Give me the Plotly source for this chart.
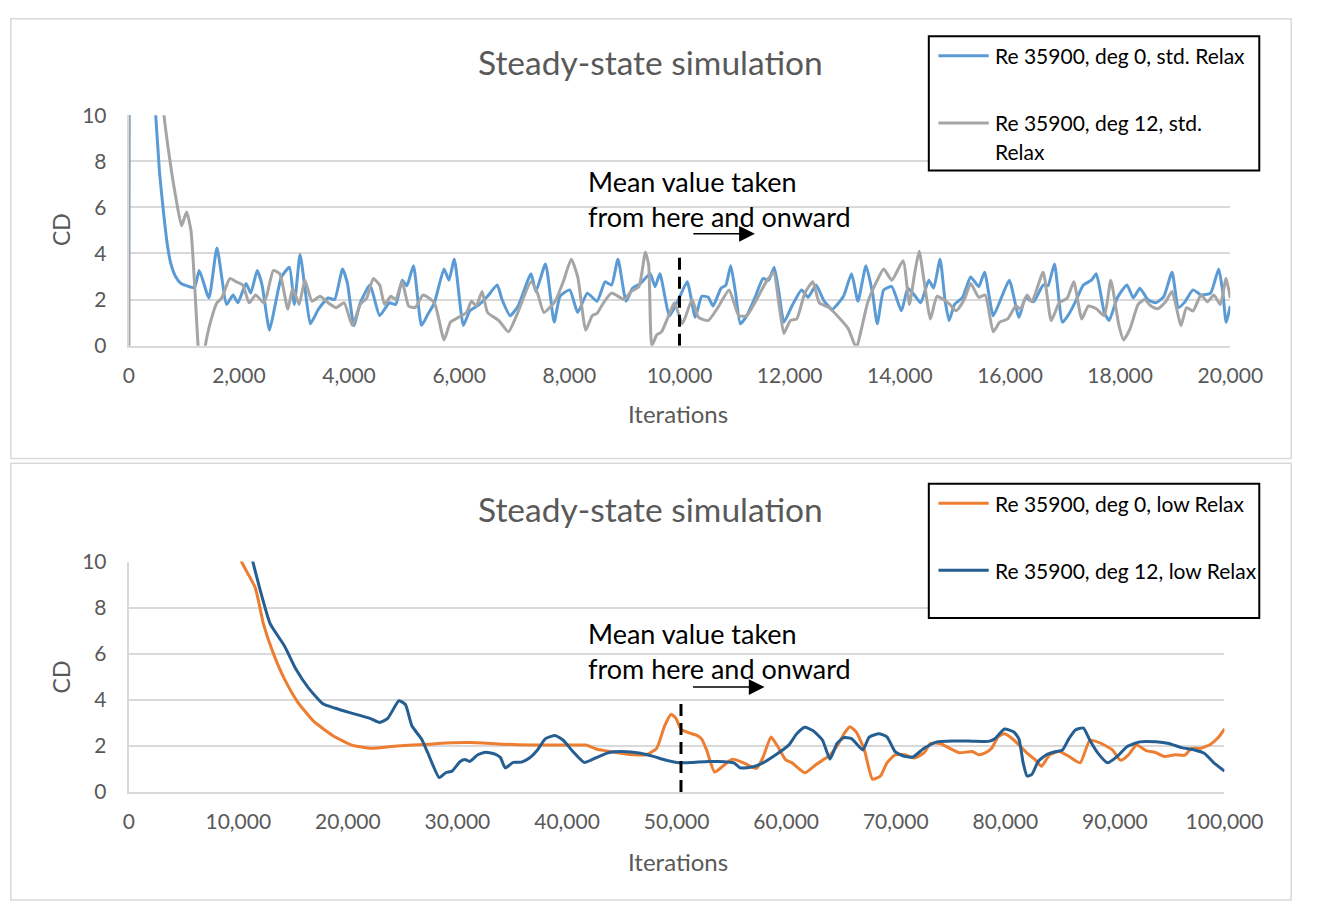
import plotly.graph_objects as go

W, H = 1335, 914

# ---------------- data ----------------
# Upper panel: standard relaxation, 0 - 20,000 iterations
ITER_STD_DEG0 = [0, 30, 300, 490, 560, 640, 700, 760, 850, 950, 1135, 1200, 1281, 1456, 1602, 1778, 1895, 1982,
                 2129, 2216, 2333, 2421, 2555, 2655, 2772, 2918, 3006, 3111, 3211, 3298, 3444, 3620, 3737, 3883,
                 3971, 4088, 4205, 4380, 4556, 4731, 4848, 4965, 5050, 5170, 5316, 5433, 5550, 5725, 5813, 5912,
                 6076, 6193, 6368, 6515, 6690, 6778, 6924, 7070, 7304, 7392, 7567, 7725, 7830, 8006, 8152, 8327,
                 8503, 8649, 8766, 8883, 9030, 9147, 9293, 9468, 9556, 9644, 9819, 9994, 10140, 10286, 10404,
                 10521, 10608, 10754, 10842, 10930, 11018, 11105, 11222, 11368, 11515, 11620, 11719, 11807, 11895,
                 12041, 12216, 12333, 12479, 12626, 12772, 12977, 13123, 13240, 13386, 13503, 13591, 13708, 13854,
                 14029, 14146, 14263, 14380, 14526, 14614, 14731, 14819, 14895, 14994, 15140, 15287, 15433, 15538,
                 15696, 15842, 15988, 16164, 16281, 16427, 16602, 16690, 16807, 16953, 17070, 17187, 17333, 17480,
                 17567, 17713, 17801, 17947, 18123, 18240, 18357, 18503, 18649, 18795, 18942, 19059, 19176, 19322,
                 19468, 19643, 19789, 19865, 19924, 20000]
CD_STD_DEG0 = [0, 40, 16, 10, 7.5, 5.6, 4.4, 3.6, 3.0, 2.7, 2.53, 2.55, 3.26, 2.07, 4.24, 1.79, 2.2, 1.86,
               2.7, 2.28, 3.26, 2.63, 0.67, 1.72, 2.98, 3.4, 1.79, 3.96, 2.28, 0.95, 1.58, 2.07, 2.0, 3.33,
               2.7, 0.88, 1.86, 2.63, 1.3, 1.86, 1.79, 2.84, 2.6, 3.47, 0.88, 1.37, 1.86, 3.33, 2.84, 3.75,
               0.88, 1.51, 1.79, 2.14, 2.63, 2.0, 1.3, 1.72, 3.12, 2.35, 3.54, 1.02, 2.14, 2.42, 1.44, 2.28,
               1.93, 2.77, 2.63, 3.75, 1.93, 2.49, 2.7, 3.12, 2.56, 3.12, 1.3, 2.07, 2.77, 1.23, 2.14,
               2.1, 1.72, 2.49, 2.63, 3.47, 2.28, 0.95, 1.3, 2.07, 2.91, 2.84, 3.4, 2.28, 1.02,
               1.72, 2.42, 2.1, 2.63, 1.93, 1.58, 2.14, 3.12, 1.93, 3.47, 2.3, 0.95, 2.42, 2.56,
               1.51, 2.49, 2.2, 1.86, 2.84, 2.5, 3.75, 2.0, 1.09, 1.79, 2.1, 2.98, 2.56, 3.19,
               1.3, 2.07, 2.84, 1.23, 2.07, 1.9, 2.63, 2.6, 3.54, 1.02, 1.37, 1.9, 2.63, 2.84,
               3.12, 1.44, 1.09, 2.07, 2.63, 2.07, 2.49, 2.0, 1.86, 2.14, 3.19, 1.65, 1.9, 2.42,
               2.2, 2.28, 3.33, 2.3, 1.02, 1.72]

ITER_STD_DEG12 = [0, 30, 300, 640, 750, 850, 960, 1050, 1130, 1200, 1260, 1320, 1390, 1485, 1602, 1690, 1836,
                  1953, 2070, 2187, 2304, 2450, 2509, 2626, 2743, 2889, 2977, 3094, 3199, 3328, 3474, 3620, 3766,
                  3912, 4059, 4205, 4322, 4439, 4556, 4644, 4761, 4848, 4965, 5082, 5199, 5345, 5550, 5725, 5842,
                  5988, 6134, 6222, 6310, 6415, 6515, 6720, 6895, 7041, 7304, 7421, 7538, 7743, 7889, 8035, 8152,
                  8298, 8415, 8503, 8620, 8766, 9000, 9117, 9263, 9380, 9440, 9497, 9585, 9673, 9790, 9907, 10053,
                  10228, 10345, 10521, 10696, 10901, 11076, 11222, 11368, 11573, 11708, 11807, 11895, 12012, 12129,
                  12275, 12421, 12538, 12714, 12918, 13064, 13211, 13298, 13415, 13562, 13708, 13854, 14059, 14175,
                  14263, 14351, 14439, 14556, 14673, 14790, 14907, 15023, 15170, 15287, 15433, 15550, 15696, 15813,
                  15959, 16105, 16193, 16310, 16398, 16602, 16749, 16895, 17041, 17158, 17304, 17421, 17567, 17713,
                  17830, 17977, 18064, 18181, 18327, 18444, 18561, 18678, 18825, 18942, 19105, 19205, 19322, 19468,
                  19585, 19702, 19819, 19924, 20000]
CD_STD_DEG12 = [0, 40, 20, 10, 8, 6.5, 5.2, 5.8, 5.0, 2.5, 0, -1.2, 0, 1.03, 1.86, 2.07, 2.91,
                2.77, 2.63, 1.86, 2.2, 1.86, 2.2, 3.26, 3.12, 1.58, 2.49, 1.79, 2.84, 1.93, 2.14, 1.86, 1.65,
                1.86, 0.88, 1.79, 2.07, 2.91, 2.63, 1.79, 2.14, 2.0, 2.77, 1.72, 1.65, 2.2, 1.86, 0.25, 1.02,
                1.23, 1.44, 1.93, 1.72, 2.35, 1.44, 1.09, 0.6, 1.3, 2.77, 2.28, 1.44, 1.93, 2.77, 3.75, 2.98,
                0.67, 1.3, 1.4, 1.86, 2.28, 2.0, 2.35, 2.56, 4.05, 3.5, 0.0, 0.46, 0.6, 1.23, 1.86, 0.95,
                2.0, 1.23, 1.09, 1.65, 2.42, 1.3, 1.3, 1.86, 2.77, 3.19, 1.79, 0.53, 1.09, 1.16,
                2.28, 2.77, 1.86, 1.65, 1.16, 0.74, -0.1, 0.67, 1.86, 2.7, 3.33, 2.84, 3.68, 1.79,
                3.05, 4.1, 2.84, 1.16, 2.14, 2.0, 1.79, 1.51, 2.0, 2.7, 2.1, 2.2, 0.6, 1.02,
                1.16, 1.72, 1.6, 2.2, 1.9, 3.19, 1.09, 1.86, 2.07, 2.77, 1.16, 1.72, 1.6, 1.3,
                2.84, 0.88, 0.25, 0.74, 1.79, 2.0, 1.72, 1.6, 1.9, 2.35, 0.88, 1.65, 1.5, 2.2,
                1.9, 2.2, 1.79, 2.91, 2.07]

# Lower panel: low relaxation, 0 - 100,000 iterations
ITER_LOW_DEG0 = [6000, 8000, 9200, 10300, 11552, 12287, 13169, 14198, 15374, 16843, 18607, 20370, 22134, 24486,
                 27425, 28190, 31128, 34068, 37007, 39947, 41711, 42740, 43475, 44945, 46121, 47296, 48178, 48913,
                 49501, 49941, 50382, 50970, 51852, 52293, 52734, 53469, 54204, 55086, 56114, 57290, 57878, 58613,
                 59201, 59936, 60524, 61700, 62729, 63905, 64640, 65375, 65816, 66404, 67139, 67874, 68609, 69197,
                 69932, 70814, 71696, 72578, 73166, 74048, 74929, 75811, 76987, 77575, 78163, 78750, 79335, 79923,
                 80805, 81981, 82716, 83304, 84039, 84921, 85803, 86832, 87714, 88743, 89772, 90507, 91242, 91976,
                 92858, 93740, 94475, 95504, 96386, 96974, 97856, 98738, 99473, 100000]
CD_LOW_DEG0 = [20, 14.5, 11.8, 10.0, 8.86, 7.31, 6.05, 4.92, 3.94, 3.09, 2.46, 2.04, 1.9, 2.0,
               2.08, 2.11, 2.15, 2.08, 2.04, 2.04, 2.04, 1.86, 1.8, 1.69, 1.62, 1.63, 1.9, 2.88,
               3.38, 3.2, 2.74, 2.6, 2.46, 2.3, 1.83, 0.87, 1.12, 1.43, 1.27, 1.03, 1.5, 2.39,
               2.0, 1.41, 1.27, 0.84, 1.2, 1.57, 2.0, 2.6, 2.84, 2.6, 1.83, 0.56, 0.7, 1.27,
               1.62, 1.62, 1.48, 1.7, 2.11, 2.11, 1.9, 1.71, 1.76, 1.62, 1.7, 1.9, 2.39, 2.53,
               2.25, 1.69, 1.41, 1.12, 1.62, 1.76, 1.55, 1.27, 2.25, 2.11, 1.83, 1.38, 1.62, 2.04,
               1.8, 1.71, 1.55, 1.62, 1.6, 1.9, 1.9, 2.08, 2.39, 2.74]

ITER_LOW_DEG12 = [7000, 9000, 10200, 11290, 12022, 12904, 14227, 15256, 16432, 17755, 18784, 20254, 22017, 22899,
                  23634, 24663, 25251, 25839, 26721, 27307, 28337, 28924, 29512, 30247, 30688, 31128, 31863, 32598,
                  33480, 33921, 34362, 35097, 35832, 36567, 37302, 38037, 38919, 39654, 40536, 41565, 42593, 43769,
                  44945, 46709, 47884, 49060, 50236, 51412, 52881, 53763, 55233, 55821, 56997, 57878, 59054, 60230,
                  60965, 61700, 62435, 63317, 63993, 64640, 65228, 65963, 66992, 67580, 68462, 69197, 69932, 70814,
                  71549, 72578, 73754, 75223, 76987, 78453, 79041, 79923, 80805, 81246, 81628, 81981, 82422, 83010,
                  83745, 84627, 85215, 85803, 86391, 87126, 87714, 88449, 89331, 90213, 91095, 92271, 93741, 94917,
                  96093, 97269, 98151, 99033, 100000]
CD_LOW_DEG12 = [22, 15.5, 12, 10.06, 8.72, 7.31, 6.33, 5.34, 4.5, 3.82, 3.65, 3.44, 3.2, 3.02,
                3.2, 3.96, 3.8, 2.88, 2.3, 1.69, 0.63, 0.84, 0.91, 1.33, 1.41, 1.33, 1.62, 1.73,
                1.64, 1.5, 1.05, 1.29, 1.3, 1.48, 1.83, 2.32, 2.46, 2.25, 1.76, 1.29, 1.48, 1.71,
                1.76, 1.69, 1.55, 1.38, 1.27, 1.29, 1.33, 1.33, 1.27, 1.05, 1.1, 1.27, 1.62, 2.04,
                2.53, 2.81, 2.67, 2.25, 1.43, 2.11, 2.36, 2.32, 1.83, 2.39, 2.53, 2.4, 1.76, 1.55,
                1.52, 1.9, 2.18, 2.22, 2.21, 2.2, 2.32, 2.74, 2.6, 2.3, 1.27, 0.7, 0.77, 1.34,
                1.62, 1.76, 1.83, 2.32, 2.7, 2.78, 2.25, 1.69, 1.27, 1.55, 1.97, 2.18, 2.18, 2.11,
                1.93, 1.83, 1.69, 1.27, 0.91]

NAMES_STD = ["Re 35900, deg 0, std. Relax", "Re 35900, deg 12, std.<br>Relax"]
NAMES_LOW = ["Re 35900, deg 0, low Relax", "Re 35900, deg 12, low Relax"]
TITLE = "Steady-state simulation"
X_TITLE = "Iterations"
Y_TITLE = "CD"
NOTE_LINES = ["Mean value taken", "from here and onward"]
MEAN_START_STD = 10000
MEAN_START_LOW = 50400

COLORS_STD = ["#5B9BD5", "#A5A5A5"]
COLORS_LOW = ["#ED7D31", "#255E91"]
FONT = "Lato"
GREY_TXT = "#595959"
GRID = "#D9D9D9"


def fx(px):
    return px / W


def fy(py):
    return 1 - py / H


fig = go.Figure()

line_style = dict(width=3, shape="spline", smoothing=0.5)
fig.add_trace(go.Scatter(x=ITER_STD_DEG0, y=CD_STD_DEG0, mode="lines", name=NAMES_STD[0],
                         line=dict(color=COLORS_STD[0], **line_style), xaxis="x", yaxis="y"))
fig.add_trace(go.Scatter(x=ITER_STD_DEG12, y=CD_STD_DEG12, mode="lines", name=NAMES_STD[1],
                         line=dict(color=COLORS_STD[1], **line_style), xaxis="x", yaxis="y"))
fig.add_trace(go.Scatter(x=ITER_LOW_DEG0, y=CD_LOW_DEG0, mode="lines", name=NAMES_LOW[0],
                         line=dict(color=COLORS_LOW[0], **line_style), xaxis="x2", yaxis="y2"))
fig.add_trace(go.Scatter(x=ITER_LOW_DEG12, y=CD_LOW_DEG12, mode="lines", name=NAMES_LOW[1],
                         line=dict(color=COLORS_LOW[1], **line_style), xaxis="x2", yaxis="y2"))

tickfont = dict(family=FONT, size=21, color=GREY_TXT)
xcommon = dict(showgrid=False, zeroline=False, showline=True, linecolor=GRID, linewidth=2,
               ticks="", tickformat=",", tickfont=tickfont, ticklabelstandoff=10, fixedrange=True)
ycommon = dict(range=[0, 10], dtick=2, tick0=0, showgrid=True, gridcolor=GRID, gridwidth=2,
               zeroline=False, showline=True, linecolor=GRID, linewidth=2, ticks="",
               tickfont=tickfont, ticklabelstandoff=16, fixedrange=True)

fig.update_layout(
    width=W, height=H, margin=dict(l=0, r=0, t=0, b=0),
    paper_bgcolor="white", plot_bgcolor="white", showlegend=False,
    xaxis=dict(domain=[fx(127), fx(1267)], anchor="y", range=[0, 20000], dtick=2000, **xcommon),
    yaxis=dict(domain=[fy(341), fy(104)], anchor="x", **ycommon),
    xaxis2=dict(domain=[fx(127), fx(1261)], anchor="y2", range=[0, 100000], dtick=10000, **xcommon),
    yaxis2=dict(domain=[fy(800), fy(563)], anchor="x2", **ycommon),
)

shapes = []
annotations = []

# panel frames
for top, bot in [(5, 457), (462, 911)]:
    shapes.append(dict(type="rect", xref="paper", yref="paper", x0=fx(5), x1=fx(1330), y0=fy(bot), y1=fy(top),
                       line=dict(color=GRID, width=1.5), fillcolor="rgba(0,0,0,0)", layer="below"))

panels = [
    dict(xa="x", ya="y", title_y=49, xtitle_y=411, cd_y=222,
         legend_top=23, colors=COLORS_STD, names=NAMES_STD, mean=MEAN_START_STD,
         mask=(588, 897, 140, 226), note_y=(172, 208), arrow=(712, 775, 226)),
    dict(xa="x2", ya="y2", title_y=509, xtitle_y=871, cd_y=682,
         legend_top=483, colors=COLORS_LOW, names=NAMES_LOW, mean=MEAN_START_LOW,
         mask=(590, 908, 600, 692), note_y=(637, 673), arrow=(712, 785, 692)),
]


def text_at(px, py, text, size, color, xanchor="center", angle=0):
    return dict(xref="paper", yref="paper", x=fx(px), y=fy(py), xanchor=xanchor, yanchor="middle",
                text=text, textangle=angle, showarrow=False,
                font=dict(family=FONT, size=size, color=color))


for p in panels:
    # chart title and axis titles
    annotations.append(text_at(667, p["title_y"], TITLE, 33.5, GREY_TXT))
    annotations.append(text_at(695, p["xtitle_y"], X_TITLE, 24, GREY_TXT))
    annotations.append(text_at(57, p["cd_y"], Y_TITLE, 23, GREY_TXT, angle=-90))

    # white patch behind the note so the gridlines stop around it
    mx0, mx1, my0, my1 = p["mask"]
    shapes.append(dict(type="rect", xref="paper", yref="paper", x0=fx(mx0), x1=fx(mx1), y0=fy(my1), y1=fy(my0),
                       line=dict(width=0), fillcolor="white", layer="between"))
    for txt, yy in zip(NOTE_LINES, p["note_y"]):
        annotations.append(text_at(600, yy, txt, 27, "black", xanchor="left"))

    # dashed marker where averaging starts
    shapes.append(dict(type="line", xref=p["xa"], yref=p["ya"], x0=p["mean"], x1=p["mean"], y0=0, y1=4,
                       line=dict(color="black", width=3, dash="12px,7px"), layer="above"))

    # arrow pointing onward
    a0, a1, ay = p["arrow"]
    annotations.append(dict(xref="paper", yref="paper", x=fx(a1), y=fy(ay), ax=-(a1 - a0), ay=0,
                            axref="pixel", ayref="pixel", text="", showarrow=True, arrowhead=2,
                            arrowsize=2.1, arrowwidth=1.5, arrowcolor="black"))

    # legend box
    lt = p["legend_top"]
    shapes.append(dict(type="rect", xref="paper", yref="paper", x0=fx(955), x1=fx(1297), y0=fy(lt + 138),
                       y1=fy(lt), line=dict(color="black", width=2), fillcolor="white", layer="above"))
    for i, (name, col) in enumerate(zip(p["names"], p["colors"])):
        ly = lt + 20 + 69 * i
        shapes.append(dict(type="line", xref="paper", yref="paper", x0=fx(965), x1=fx(1017), y0=fy(ly), y1=fy(ly),
                           line=dict(color=col, width=3), layer="above"))
        for k, part in enumerate(name.split("<br>")):
            annotations.append(text_at(1021, ly + 29 * k, part, 21, "black", xanchor="left"))

fig.update_layout(shapes=shapes, annotations=annotations)
fig.write_html("out.html", post_script="document.body.style.margin='0';document.body.style.overflow='hidden';")
